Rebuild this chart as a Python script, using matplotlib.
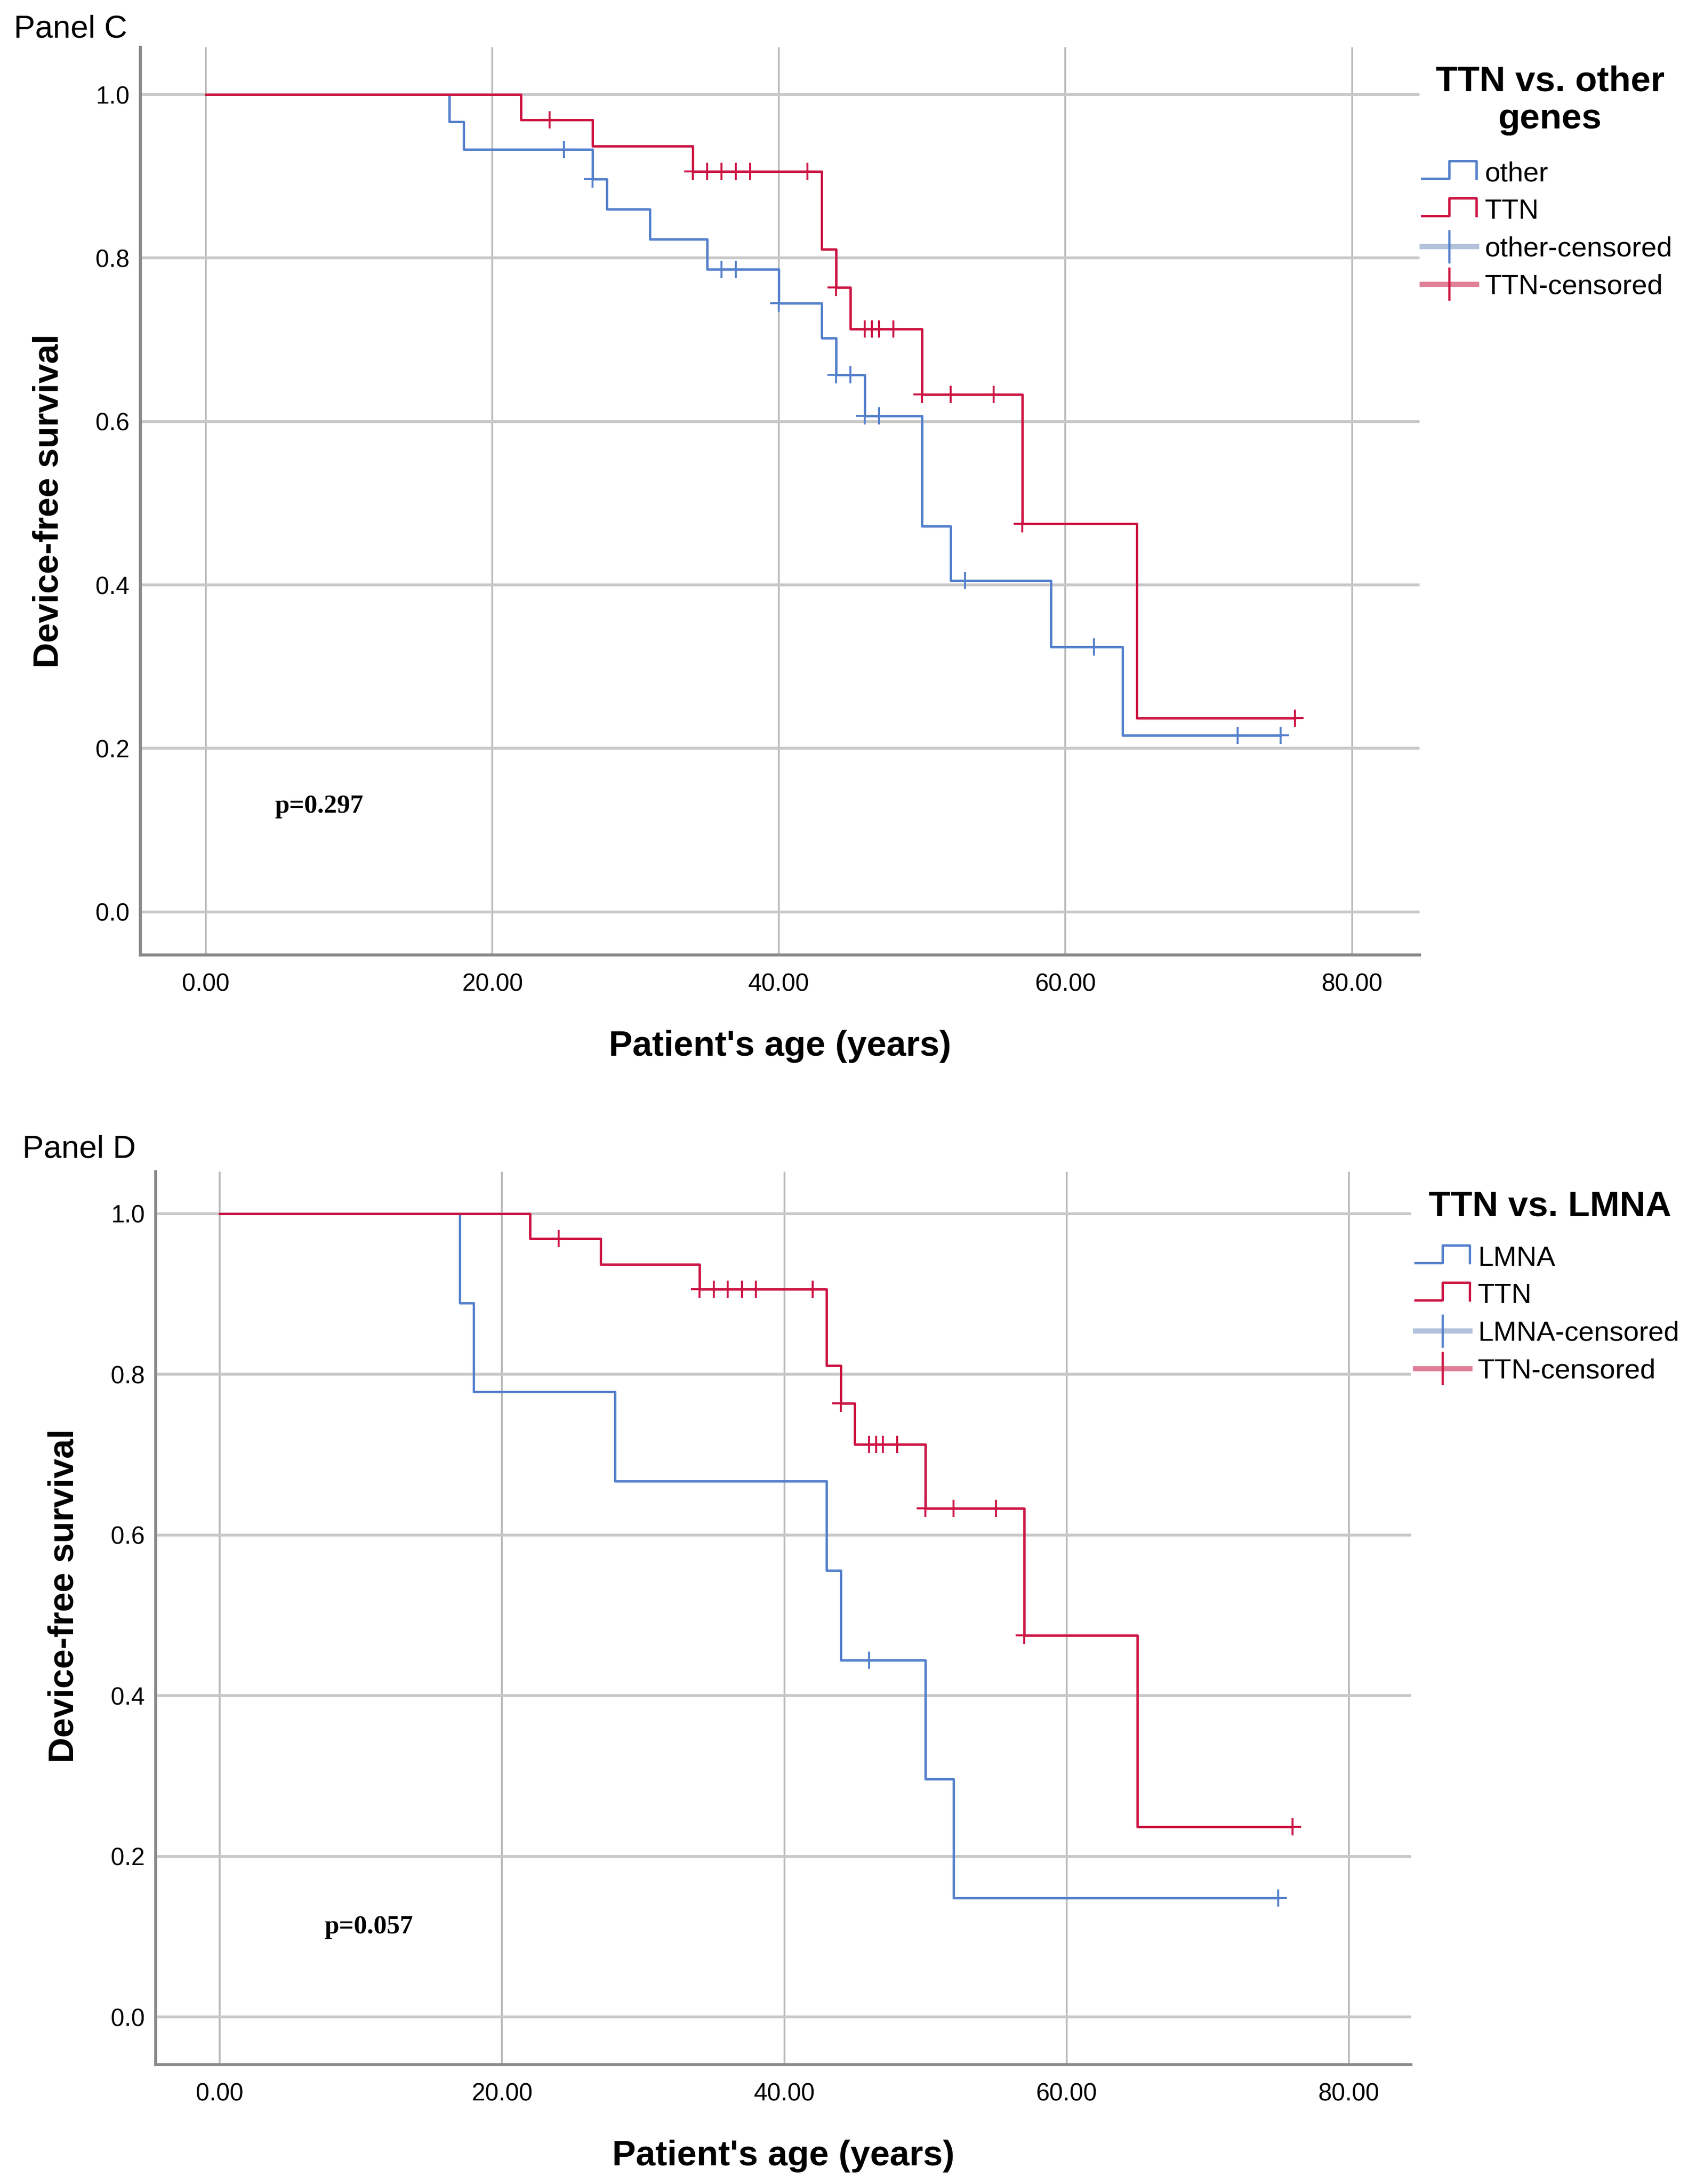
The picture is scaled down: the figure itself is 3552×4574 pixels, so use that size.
import matplotlib
matplotlib.use('Agg')
import numpy as np
import matplotlib.pyplot as plt
from matplotlib.lines import Line2D
from matplotlib.legend_handler import HandlerBase

plt.rcParams['font.family'] = ['Liberation Sans', 'DejaVu Sans']

# Kaplan-Meier steps (age at event, survival after it)
OTHER_T = [0, 17, 18, 27, 28, 31, 35, 40, 43, 44, 46, 50, 52, 59, 64]
OTHER_S = [1.0, 0.967, 0.933, 0.897, 0.860, 0.823, 0.786, 0.745, 0.702,
           0.657, 0.607, 0.472, 0.405, 0.324, 0.216]
OTHER_CENS = [25, 27, 36, 37, 40, 44, 45, 46, 47, 53, 62, 72, 75]

TTN_T = [0, 22, 27, 34, 43, 44, 45, 50, 57, 65]
TTN_S = [1.0, 0.969, 0.937, 0.906, 0.811, 0.764, 0.713, 0.633, 0.475, 0.237]
TTN_CENS = [24, 34, 35, 36, 37, 38, 42, 44, 46, 46.5, 47, 48, 50, 52, 55, 57, 76]

LMNA_T = [0, 17, 18, 28, 43, 44, 50, 52]
LMNA_S = [1.0, 0.889, 0.778, 0.667, 0.556, 0.444, 0.296, 0.148]
LMNA_CENS = [46, 75]

P_C = 'p=0.297'
P_D = 'p=0.057'
XTICKS = [0, 20, 40, 60, 80]
YTICKS = [0.0, 0.2, 0.4, 0.6, 0.8, 1.0]

BLUE = '#5580cc'
BLUE_LIGHT = '#b3c3dc'
RED = '#cc1443'
RED_LIGHT = '#e08098'
GRID_H = '#c8c8c8'
GRID_V = '#b8b8b8'
SPINE = '#8a8a8a'

# reference laid out on a 1220 x 1571 grid
W, H = 1220.0, 1571.0


def fx(px):
    return px / W


def fy(py):
    return 1 - py / H


class StepHandler(HandlerBase):
    def create_artists(self, legend, orig_handle, xdescent, ydescent,
                       width, height, fontsize, trans):
        x0, y0 = -xdescent, -ydescent
        lo, hi = y0 + 0.15 * height, y0 + 1.05 * height
        xm = x0 + 0.5 * width
        xe = x0 + width
        ln = Line2D([x0, xm, xm, xe, xe], [lo, lo, hi, hi, lo],
                    color=orig_handle.get_color(), lw=1.2, transform=trans)
        return [ln]


class CensHandler(HandlerBase):
    def __init__(self, light, dark):
        super().__init__()
        self.light = light
        self.dark = dark

    def create_artists(self, legend, orig_handle, xdescent, ydescent,
                       width, height, fontsize, trans):
        x0, y0 = -xdescent, -ydescent
        yc = y0 + 0.5 * height
        xm = x0 + 0.5 * width
        h = Line2D([x0, x0 + width], [yc, yc], color=self.light, lw=2.6,
                   transform=trans)
        v = Line2D([xm, xm], [yc - 0.8 * height, yc + 0.8 * height],
                   color=self.dark, lw=1.1, transform=trans)
        return [h, v]


def km_curve(ax, t, s, cens, color):
    end = max(cens)
    ax.step(t + [end], s + [s[-1]], where='post', color=color, lw=1.2,
            zorder=3)
    idx = np.searchsorted(t, cens, side='right') - 1
    ys = np.array(s)[idx]
    ax.plot(cens, ys, ls='none', marker='+', ms=8.5, mew=1.0, color=color,
            zorder=4)


def style_axes(ax, xlim, ylim):
    ax.set_xlim(*xlim)
    ax.set_ylim(*ylim)
    ax.set_xticks(XTICKS, [f'{v:.2f}' for v in XTICKS])
    ax.set_yticks(YTICKS, [f'{v:.1f}' for v in YTICKS])
    ax.tick_params(length=0, labelsize=12.3, colors='black')
    ax.tick_params(axis='x', pad=9)
    ax.tick_params(axis='y', pad=5.5)
    for side in ('top', 'right'):
        ax.spines[side].set_visible(False)
    for side in ('left', 'bottom'):
        ax.spines[side].set_color(SPINE)
        ax.spines[side].set_linewidth(1.5)
    ax.set_axisbelow(True)
    ax.yaxis.grid(True, color=GRID_H, lw=1.4)
    ax.xaxis.grid(True, color=GRID_V, lw=0.9)


def panel(fig, box, xlim, ylim, other_t, other_s, other_c, other_name,
          ptext, pxy, ylab_y, title, title_y, leg_x, leg_top, label, label_xy):
    l, t, r, b = box
    ax = fig.add_axes([fx(l), fy(b), fx(r) - fx(l), fy(t) - fy(b)])
    style_axes(ax, xlim, ylim)
    km_curve(ax, other_t, other_s, other_c, BLUE)
    km_curve(ax, TTN_T, TTN_S, TTN_CENS, RED)
    ax.text(pxy[0], pxy[1], ptext, family='Liberation Serif',
            fontweight='bold', fontsize=13.2, va='center', ha='left')

    ax.set_xlabel("Patient's age (years)", fontsize=17.8, fontweight='bold')
    ax.set_ylabel('Device-free survival', fontsize=17.8, fontweight='bold')
    ax.xaxis.set_label_coords(0.5, -54 / (b - t))
    ax.yaxis.set_label_coords(-54 / (r - l), ylab_y)

    fig.text(fx(label_xy[0]), fy(label_xy[1]), label, fontsize=16,
             ha='left', va='center')
    fig.text(fx(1115), fy(title_y), title, fontsize=18, fontweight='bold',
             ha='center', va='top', linespacing=1.17)

    h_other = Line2D([], [], color=BLUE)
    h_ttn = Line2D([], [], color=RED)
    h_oc = Line2D([], [], color=BLUE)
    h_tc = Line2D([], [], color=RED)
    ax.legend([h_other, h_ttn, h_oc, h_tc],
              [other_name, 'TTN', other_name + '-censored', 'TTN-censored'],
              handler_map={h_other: StepHandler(), h_ttn: StepHandler(),
                           h_oc: CensHandler(BLUE_LIGHT, BLUE),
                           h_tc: CensHandler(RED_LIGHT, RED)},
              loc='upper left', bbox_to_anchor=(fx(leg_x), fy(leg_top)),
              bbox_transform=fig.transFigure, frameon=False, fontsize=14,
              borderpad=0, borderaxespad=0, handlelength=1.95,
              handletextpad=0.3, labelspacing=0.42, handleheight=0.7)
    return ax


fig = plt.figure(figsize=(3552 / 300, 4574 / 300), dpi=300)

panel(fig, (101, 34, 1021, 687), (-4.56, 84.7), (-0.053, 1.058),
      OTHER_T, OTHER_S, OTHER_CENS, 'other', P_C, (4.8, 0.129), 0.5,
      'TTN vs. other\ngenes', 47, 1023, 116, 'Panel C', (10, 21))

panel(fig, (112, 843, 1015, 1485), (-4.53, 84.4), (-0.059, 1.052),
      LMNA_T, LMNA_S, LMNA_CENS, 'LMNA', P_D, (7.4, 0.112), 0.525,
      'TTN vs. LMNA', 856, 1018, 896, 'Panel D', (16, 827))

fig.savefig('out.png', dpi=300, facecolor='white')
